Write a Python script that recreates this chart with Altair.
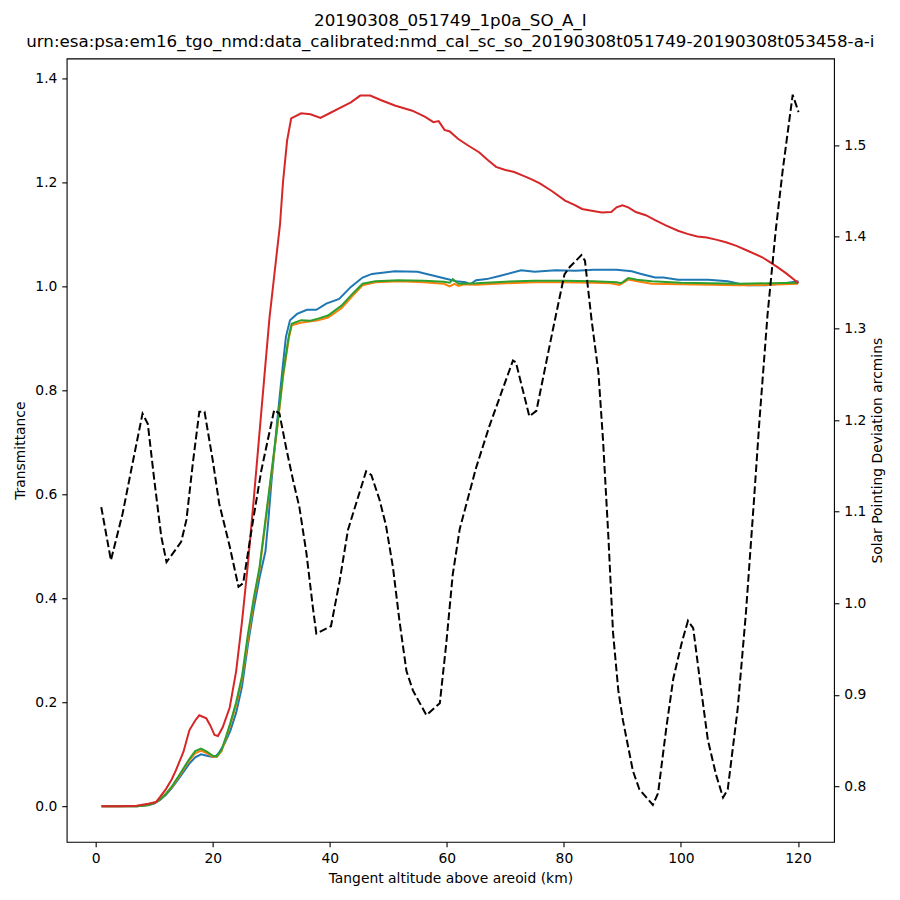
import altair as alt
import pandas as pd

# ---------------- data ----------------
red_x = [1, 4, 7, 8, 9, 10.3, 11, 12, 13, 13.7, 15, 16, 17, 17.7, 18.9, 19.6, 20.3, 20.9, 21.7, 22.9,
         24, 25, 26, 27, 28, 29, 29.7, 30.5, 31.5, 32, 32.7, 33.4, 35.1, 36.7, 38.4, 40.3, 42, 43.6,
         45.2, 46.9, 48.8, 51.1, 54.1, 56.3, 57.7, 58.6, 59.6, 60.5, 61.9, 63.5, 65.5, 67, 68.4, 70,
         71.5, 73, 74.5, 75.9, 78, 80.2, 81.8, 83.1, 85, 86.5, 88.1, 89, 90, 91, 92.3, 94, 95.5, 97.5,
         99.5, 101.1, 102.8, 104.4, 106, 107.7, 109.5, 111.3, 113.9, 115, 116.5, 118, 120.1]
red_y = [0.0, 0.0, 0.001, 0.003, 0.005, 0.008, 0.018, 0.033, 0.052, 0.069, 0.105, 0.146, 0.165, 0.175,
         0.169, 0.155, 0.137, 0.135, 0.152, 0.19, 0.26, 0.355, 0.465, 0.59, 0.72, 0.85, 0.94, 1.02,
         1.12, 1.2, 1.28, 1.323, 1.333, 1.331, 1.324, 1.335, 1.345, 1.354, 1.367, 1.367, 1.358, 1.348,
         1.338, 1.326, 1.316, 1.318, 1.301, 1.298, 1.284, 1.272, 1.258, 1.243, 1.23, 1.224, 1.22,
         1.213, 1.206, 1.198, 1.183, 1.165, 1.157, 1.149, 1.145, 1.142, 1.143, 1.152, 1.156, 1.152,
         1.143, 1.137, 1.128, 1.117, 1.107, 1.101, 1.096, 1.094, 1.09, 1.085, 1.078, 1.069, 1.056,
         1.048, 1.037, 1.025, 1.006]

blue_x = [1, 4, 7, 8, 9, 10, 11, 12, 13, 14, 15, 16, 17, 18, 19, 20, 20.5, 21, 22, 23, 24, 25, 26, 27,
          28, 29, 29.5, 30, 31, 32, 32.5, 33.2, 34.4, 36.1, 37.7, 39.4, 41.6, 43.6, 45.6, 47.2, 51.1,
          55, 59, 61.6, 63.2, 64, 65, 66.8, 69, 72.7, 75, 78.6, 82, 85.1, 89, 91.6, 93.2, 95.6, 97,
          99.5, 104.7, 108, 111.2, 114.5, 117.8, 120.1]
blue_y = [0.0, 0.0, 0.0, 0.001, 0.002, 0.005, 0.012, 0.022, 0.035, 0.05, 0.066, 0.082, 0.094, 0.1,
          0.097, 0.095, 0.096, 0.102, 0.12, 0.145, 0.18, 0.23, 0.31, 0.38, 0.44, 0.49, 0.55, 0.62,
          0.74, 0.85, 0.903, 0.935, 0.947, 0.955, 0.955, 0.967, 0.976, 0.999, 1.017, 1.024, 1.029,
          1.028, 1.017, 1.010, 1.008, 1.004, 1.012, 1.014, 1.02, 1.031, 1.028, 1.031, 1.03, 1.032,
          1.032, 1.029, 1.024, 1.017, 1.017, 1.013, 1.013, 1.010, 1.002, 1.002, 1.006, 1.010]

orange_x = [1, 4, 7, 8, 9, 10, 11, 12, 13, 14, 15, 16, 17, 18, 19, 20, 20.7, 21.5, 22.3, 23, 24, 25,
            26, 27, 28, 29, 30, 31, 32, 33, 33.5, 35, 38, 39.7, 42, 43.9, 45.6, 47.8, 52, 56, 59.5,
            60.5, 61.3, 62, 63, 65, 70, 75, 80, 85, 88, 89.5, 91, 92.5, 95, 100, 105, 110, 115, 120]
orange_y = [0.0, 0.0, 0.0, 0.001, 0.003, 0.006, 0.013, 0.024, 0.037, 0.053, 0.071, 0.088, 0.102,
            0.107, 0.102, 0.095, 0.095, 0.106, 0.132, 0.157, 0.195, 0.245, 0.32, 0.395, 0.455, 0.545,
            0.635, 0.725, 0.825, 0.9, 0.925, 0.93, 0.935, 0.94, 0.958, 0.982, 1.002, 1.008, 1.01,
            1.008, 1.005, 1.0, 1.005, 1.001, 1.004, 1.003, 1.006, 1.008, 1.008, 1.007, 1.006, 1.003,
            1.013, 1.01, 1.005, 1.004, 1.003, 1.002, 1.003, 1.005]

green_x = [1, 4, 7, 8, 9, 10, 11, 12, 13, 14, 15, 16, 17, 18, 19, 20, 20.7, 21.5, 22.3, 23, 24, 25,
           26, 27, 28, 29, 30, 31, 32, 33, 33.5, 35.1, 36.7, 38, 39.7, 42, 43.9, 45.6, 47.8, 51.7, 56,
           59.5, 60.5, 61, 62, 65, 70, 75, 80, 85, 89, 89.8, 91, 92.5, 95, 100, 105, 110, 115, 120]
green_y = [0.0, 0.0, 0.0, 0.001, 0.003, 0.006, 0.013, 0.024, 0.038, 0.055, 0.073, 0.091, 0.106,
           0.111, 0.105, 0.097, 0.096, 0.108, 0.135, 0.16, 0.2, 0.25, 0.33, 0.4, 0.46, 0.55, 0.64,
           0.73, 0.83, 0.905, 0.928, 0.935, 0.934, 0.938, 0.944, 0.963, 0.986, 1.005, 1.01, 1.012,
           1.011, 1.009, 1.007, 1.014, 1.005, 1.006, 1.009, 1.011, 1.011, 1.01, 1.008, 1.006, 1.016,
           1.013, 1.01, 1.007, 1.006, 1.005, 1.006, 1.007]

dev_x = [0.95, 2.6, 4.6, 6.3, 8.0, 8.9, 10.0, 11.2, 12.1, 14.6, 15.5, 16.6, 17.7, 18.6, 20.0, 21.1,
         22.9, 24.4, 25.2, 26.8, 28.3, 30.5, 31.4, 32.5, 33.7, 34.8, 36.0, 37.1, 37.7, 40.2, 41.7,
         43.1, 44.5, 46.2, 47.1, 48.5, 49.6, 50.8, 51.9, 53.1, 54.2, 56.5, 58.8, 59.9, 61.0, 62.2,
         65.0, 67.3, 71.3, 71.8, 74.1, 75.3, 78.1, 80.1, 81.0, 83.0, 83.6, 84.7, 85.9, 86.7, 87.6,
         88.4, 89.3, 90.1, 91.8, 92.9, 95.2, 96.1, 97.5, 98.7, 100.1, 101.2, 102.1, 103.2, 104.6,
         106.0, 107.2, 108.0, 109.7, 111.1, 112.5, 113.4, 114.8, 116.2, 117.4, 119.1, 120.1]
dev_y = [1.105, 1.047, 1.098, 1.153, 1.207, 1.196, 1.135, 1.073, 1.045, 1.067, 1.091, 1.153, 1.209,
         1.209, 1.156, 1.109, 1.062, 1.018, 1.022, 1.087, 1.145, 1.211, 1.207, 1.171, 1.135, 1.105,
         1.055, 0.996, 0.967, 0.975, 1.025, 1.08, 1.109, 1.144, 1.14, 1.113, 1.085, 1.039, 0.981,
         0.926, 0.905, 0.878, 0.891, 0.956, 1.031, 1.081, 1.148, 1.194, 1.265, 1.263, 1.204, 1.21,
         1.298, 1.359, 1.367, 1.38, 1.374, 1.311, 1.252, 1.177, 1.073, 0.968, 0.905, 0.872, 0.817,
         0.797, 0.78, 0.793, 0.864, 0.918, 0.956, 0.981, 0.973, 0.918, 0.851, 0.813, 0.788, 0.797,
         0.885, 0.989, 1.114, 1.198, 1.315, 1.407, 1.473, 1.555, 1.536]

x_ticks = [0, 20, 40, 60, 80, 100, 120]
left_ticks = [0.0, 0.2, 0.4, 0.6, 0.8, 1.0, 1.2, 1.4]
right_ticks = [0.8, 0.9, 1.0, 1.1, 1.2, 1.3, 1.4, 1.5]

title_lines = ["20190308_051749_1p0a_SO_A_I",
               "urn:esa:psa:em16_tgo_nmd:data_calibrated:nmd_cal_sc_so_20190308t051749-20190308t053458-a-i"]

FONT = "DejaVu Sans"
FS = 13.9

xscale = alt.Scale(domain=[-4.96, 126.16], nice=False, zero=False)
lscale = alt.Scale(domain=[-0.0685, 1.4385], nice=False, zero=False)
rscale = alt.Scale(domain=[0.7397, 1.5946], nice=False, zero=False)

x_axis = alt.Axis(values=x_ticks, format="d", title="Tangent altitude above areoid (km)",
                  titlePadding=6)
l_axis = alt.Axis(values=left_ticks, format=".1f", title="Transmittance", orient="left",
                  titlePadding=7)
r_axis = alt.Axis(values=right_ticks, format=".1f", title="Solar Pointing Deviation arcmins",
                  orient="right", titlePadding=5, titleAngle=270, titleBaseline="top")


def series(xs, ys, color):
    df = pd.DataFrame({"alt": xs, "val": ys})
    return alt.Chart(df).mark_line(color=color, strokeWidth=2.0, clip=True).encode(
        x=alt.X("alt:Q", scale=xscale, axis=x_axis),
        y=alt.Y("val:Q", scale=lscale, axis=l_axis),
    )


trans = alt.layer(
    series(blue_x, blue_y, "#1f77b4"),
    series(orange_x, orange_y, "#ff7f0e"),
    series(green_x, green_y, "#2ca02c"),
    series(red_x, red_y, "#d62728"),
)

dev_df = pd.DataFrame({"alt": dev_x, "dev": dev_y})
dev = alt.Chart(dev_df).mark_line(color="black", strokeWidth=2.0, strokeDash=[7.7, 3.3],
                                  clip=True).encode(
    x=alt.X("alt:Q", scale=xscale, axis=x_axis),
    y=alt.Y("dev:Q", scale=rscale, axis=r_axis),
)

chart = alt.layer(trans, dev).resolve_scale(y="independent").properties(
    width=767.6,
    height=783.7,
    padding={"left": 58.7, "top": 50.3, "right": 58, "bottom": 50},
    autosize=alt.AutoSizeParams(type="none"),
    background="white",
    title=alt.TitleParams(text=title_lines, font=FONT, fontSize=16.7, fontWeight="normal",
                          color="black", anchor="middle", offset=8, lineHeight=21),
).configure_view(
    stroke="black", strokeWidth=1.1
).configure_axis(
    grid=False, domain=False, ticks=True, tickColor="black", tickSize=4.9, tickWidth=1.1,
    labelFont=FONT, labelFontSize=FS, labelColor="black", labelPadding=4.9,
    titleFont=FONT, titleFontSize=FS, titleFontWeight="normal", titleColor="black",
)

chart.save("out.html", embed_options={"renderer": "svg", "actions": False})
